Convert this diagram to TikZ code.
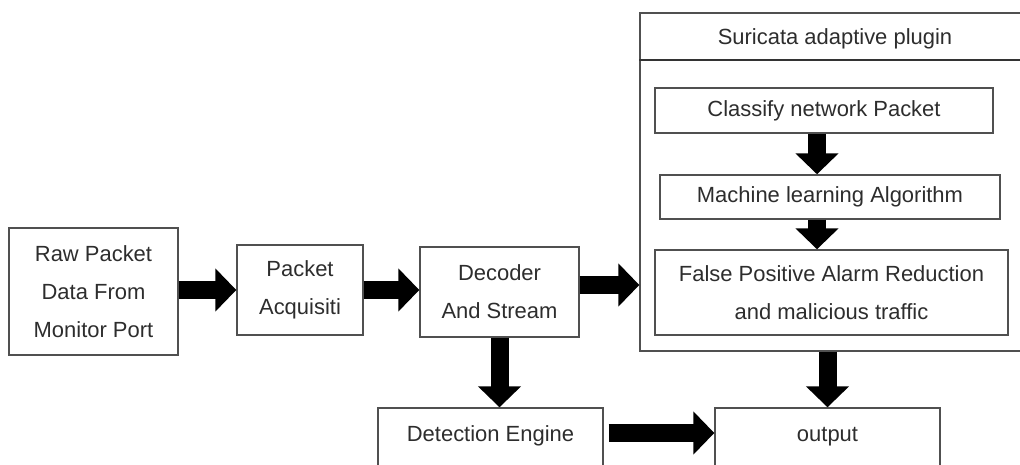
\documentclass[tikz,border=0pt]{standalone}
\usepackage{fontspec}
\setmainfont{Liberation Sans}
\usepackage{tikz}
\usetikzlibrary{arrows.meta, positioning}
\usepackage{xcolor}
\definecolor{boxgray}{RGB}{80, 80, 80}
\definecolor{txtgray}{RGB}{45, 45, 45}

\begin{document}
\begin{tikzpicture}[x=0.02cm, y=-0.02cm,
    box/.style={draw=boxgray, line width=0.8pt, align=center, inner sep=0pt, text=txtgray},
    blk/.style={black, line width=0.36cm, -{Triangle[width=0.84cm, length=0.42cm]}},
    font=\fontsize{12.5}{21.5}\selectfont]
    \useasboundingbox (0,0) rectangle (1020,465);
    \clip (0,0) rectangle (1020,465);
    % left chain
    \node[box, minimum width=3.38cm, minimum height=2.54cm] (raw) at (93.5,291.5) {Raw Packet\\Data From\\Monitor Port};
    \node[box, minimum width=2.52cm, minimum height=1.8cm] (acq) at (300,290) {Packet\\Acquisiti};
    \node[box, minimum width=3.18cm, minimum height=1.8cm] (dec) at (499.5,292) {Decoder\\And Stream};
    % plugin
    \node[box, minimum width=7.8cm, minimum height=6.76cm] (plugin) at (835,182) {};
    \node[text=txtgray] (ptitle) at (835,39) {Suricata adaptive plugin};
    \draw[black!80, line width=1.2pt] ([yshift=-0.96cm]plugin.north west) -- ([yshift=-0.96cm]plugin.north east);
    \node[box, minimum width=6.76cm, minimum height=0.9cm] (cls) at (824,110.5) {Classify network Packet};
    \node[box, minimum width=6.8cm, minimum height=0.88cm] (mla) at (830,197) {Machine learning Algorithm};
    \node[box, minimum width=7.06cm, minimum height=1.7cm] (fpr) at (831.5,292.5) {False Positive Alarm Reduction\\and malicious traffic};
    \coordinate (mid) at (817,0);
    % bottom row
    \node[box, minimum width=4.5cm, minimum height=1.36cm, text height=9pt, text depth=10pt] (det) at (490.5,442) {Detection Engine};
    \node[box, minimum width=4.5cm, minimum height=1.36cm, text height=9pt, text depth=10pt] (out) at (827.5,442) {output};
    % arrows
    \draw[blk] (raw.east |- acq.west) -- (acq.west);
    \draw[blk] (acq.east) -- (acq.east -| dec.west);
    \draw[blk] ([yshift=0.14cm]dec.east) -- ([yshift=0.14cm]dec.east -| plugin.west);
    \draw[blk] (dec.south) -- (dec.south |- det.north);
    \draw[blk] (cls.south -| mid) -- (mla.north -| mid);
    \draw[blk] (mla.south -| mid) -- (fpr.north -| mid);
    \draw[blk] (plugin.south -| out.north) -- (out.north);
    \draw[blk] ([yshift=0.18cm, xshift=0.1cm]det.east) -- ([yshift=0.18cm]det.east -| out.west);
\end{tikzpicture}
\end{document}
